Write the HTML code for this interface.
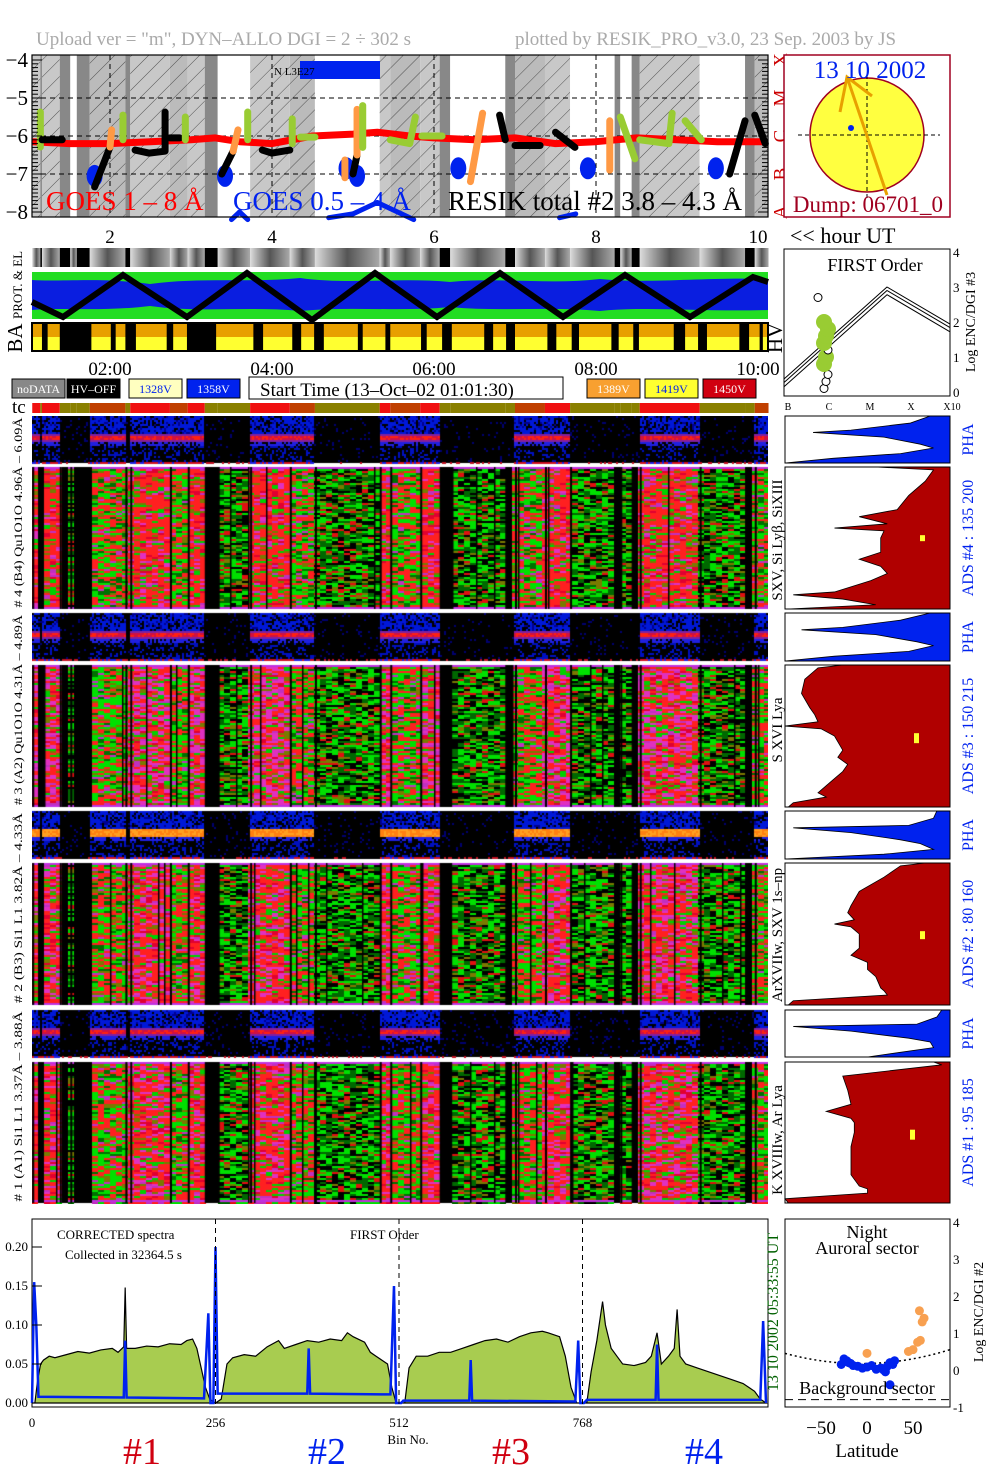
<!DOCTYPE html>
<html><head><meta charset="utf-8"><style>
html,body{margin:0;padding:0;background:#fff;width:1004px;height:1477px;overflow:hidden}
#wrap{position:relative;width:1004px;height:1477px}
svg{position:absolute;left:0;top:0}
canvas{position:absolute;left:32px;top:416px}
text{font-family:"Liberation Serif",serif}
</style></head><body>
<div id="wrap">
<canvas id="spec" width="736" height="788"></canvas>
<svg id="s" width="1004" height="1477" xmlns="http://www.w3.org/2000/svg">
<text x="36" y="45" font-size="19" fill="#aaa">Upload ver = "m", DYN–ALLO DGI =   2 ÷ 302 s</text>
<text x="515" y="45" font-size="19" fill="#aaa">plotted by RESIK_PRO_v3.0, 23 Sep. 2003 by JS</text>
</svg>
</div>
<script>
// ---------- data ----------
const segStart=[1.04,1.14,1.16,1.38,1.51,1.59,1.75,2.19,2.25,2.74,2.96,3.17,3.33,3.73,4.22,4.53,5.33,5.46,5.83,6.07,6.20,6.88,7.00,7.37,7.68,8.23,8.30,8.44,8.54,9.28,9.84,9.96];
const segEnd  =[1.14,1.16,1.38,1.51,1.59,1.75,2.19,2.25,2.74,2.96,3.17,3.33,3.73,4.22,4.53,5.33,5.46,5.83,6.07,6.20,6.88,7.00,7.37,7.68,8.23,8.30,8.44,8.54,9.28,9.84,9.96,10.13];
const segState=[3,0,3,0,1,0,2,0,3,2,3,0,1,3,2,1,3,2,3,0,1,0,2,3,1,0,1,0,3,1,0,2];
const baGapStart=[1.16,1.38,2.01,2.19,2.70,2.95,3.77,4.25,4.52,5.06,5.40,5.84,6.10,6.62,6.89,7.40,7.70,8.19,8.46,8.96,9.26,9.77,10.02];
const baGapEnd  =[1.23,1.77,2.07,2.32,2.78,3.31,3.89,4.36,4.64,5.12,5.46,5.91,6.22,6.73,7.00,7.51,7.79,8.28,8.53,9.10,9.37,9.89,10.06];
const hourTicks=[2,4,6,8,10];
const goesH=[1.04,1.5,2.0,2.5,3.0,3.3,3.6,4.0,4.5,5.0,5.3,5.7,6.0,6.5,7.0,7.5,8.0,8.5,9.0,9.5,10.1];
const goesV=[-6.15,-6.2,-6.2,-6.15,-6.1,-6.05,-6.15,-6.2,-6.0,-5.95,-5.9,-6.0,-6.05,-6.1,-6.05,-6.2,-6.15,-6.05,-6.1,-6.15,-6.15];
const goesHiH=[3.5,3.6,3.7,4.7,5.0,5.3,5.6,5.75,7.55,7.75];
const goesHiV=[-8.2,-8.0,-8.2,-8.15,-8.05,-7.75,-8.05,-8.2,-8.15,-8.05];
const resikSegH=[[1.14,1.14],[1.16,1.41],[1.81,2.0],[2.0,2.02],[2.16,2.16],[2.31,2.48,2.68,2.68],[2.74,2.86],[2.93,2.93],[3.38,3.52],[3.52,3.58],[3.7,3.7],[3.88,4.0,4.22],[4.25,4.25],[4.35,4.53],[4.9,4.9],[5.0,5.05],[5.05,5.05],[5.12,5.12],[5.46,5.7,5.77],[5.85,6.1],[6.81,6.88],[7.0,7.31],[7.5,7.74],[8.17,8.17],[8.3,8.48],[8.54,8.9,8.94],[9.1,9.3],[9.65,9.84],[9.96,10.09],[6.45,6.6]];
const resikSegV=[[-5.37,-6.29],[-6.1,-6.1],[-7.34,-6.29],[-6.29,-5.84],[-5.45,-6.1],[-6.37,-6.45,-6.4,-5.37],[-6.05,-6.05],[-5.5,-6.1],[-7.0,-6.4],[-6.4,-5.84],[-5.37,-6.1],[-6.37,-6.45,-6.37],[-5.55,-6.2],[-6.03,-6.03],[-6.63,-7.1],[-7.0,-6.5],[-6.5,-5.3],[-5.2,-6.3],[-6.1,-6.2,-5.5],[-6.0,-6.0],[-5.45,-6.1],[-6.25,-6.25],[-5.9,-6.3],[-5.6,-6.9],[-5.5,-6.6],[-6.1,-6.2,-5.4],[-5.6,-6.1],[-7.0,-5.6],[-5.45,-6.2],[-7.2,-5.4]];
const resikSegC=["#9c3","#000","#000","#f94","#9c3","#000","#000","#9c3","#000","#f94","#9c3","#000","#9c3","#9c3","#f94","#000","#f94","#9c3","#9c3","#9c3","#000","#000","#000","#f94","#9c3","#9c3","#9c3","#000","#000","#f94"];
const blobH=[1.81,3.42,4.92,5.05,6.3,7.9,9.48];
const blobV=[-7.05,-7.05,-6.85,-7.05,-6.85,-6.85,-6.85];
// bottom spectrum
const specBins=[0,4,8,12,16,24,32,48,64,80,96,112,120,128,130,132,144,160,176,192,208,216,224,230,236,242,248,256,264,272,280,296,312,328,344,352,368,384,400,416,432,440,448,464,472,480,488,496,502,508,512,520,526,536,552,568,584,600,616,632,648,664,680,696,712,720,736,744,752,760,768,774,780,788,796,800,808,816,824,840,856,864,872,878,888,896,900,904,912,928,944,960,976,992,1000,1008,1016,1024];
const specVals=[0,0,0.03,0.05,0.055,0.06,0.058,0.062,0.066,0.064,0.068,0.07,0.065,0.072,0.148,0.07,0.07,0.073,0.072,0.076,0.075,0.08,0.082,0.07,0.045,0.02,0.005,0,0.005,0.05,0.058,0.062,0.06,0.072,0.08,0.07,0.075,0.08,0.078,0.082,0.08,0.09,0.085,0.078,0.065,0.06,0.055,0.05,0.02,0,0,0,0.045,0.06,0.06,0.065,0.065,0.07,0.075,0.08,0.082,0.078,0.085,0.09,0.092,0.09,0.085,0.06,0.02,0,0,0,0.04,0.08,0.13,0.1,0.07,0.06,0.05,0.048,0.052,0.06,0.09,0.05,0.06,0.07,0.12,0.06,0.05,0.045,0.04,0.035,0.03,0.025,0.02,0.015,0.005,0];
const blueBins=[0,3,6,9,128,130,132,240,246,249,253,256,259,384,386,388,500,505,508,515,518,610,612,614,758,762,765,770,774,870,872,874,1016,1020,1024];
const blueVals=[0,0.155,0.1,0.008,0.007,0.08,0.007,0.006,0.115,0,0,0.2,0.012,0.012,0.07,0.012,0.011,0.15,0,0,0.003,0.003,0.055,0.003,0.002,0.08,0,0,0.004,0.004,0.075,0.004,0.004,0.105,0];
const specTicks=[0,0.05,0.10,0.15,0.20];
const specTickLabels=["0.00","0.05","0.10","0.15","0.20"];
const binTicks=[0,256,512,768];
// latitude scatter
const latBlue=[-28,-25,-22,-20,-18,-15,-10,-5,0,5,10,15,18,20,22,25,28,30,25,15];
const logBlue=[0.15,0.3,0.25,0.2,0.18,0.12,0.1,0.05,0.08,0.12,0.02,0.05,0.0,-0.05,0.1,0.2,0.15,0.25,-0.4,0.05];
const latOrange=[0,45,50,55,58,60,62,57];
const logOrange=[0.45,0.5,0.55,0.75,0.8,1.3,1.4,1.6];
// first order scatter
const foLog=[0.1,0.3,0.5,0.8,1.0,1.2,1.4,1.6,1.8,2.0];
const foColor=["#000","#000","#000","#9c3","#9c3","#000","#9c3","#9c3","#9c3","#9c3"];
// right profiles
const phaT=[0,0.15,0.3,0.35,0.45,0.6,0.68,0.8,0.9,1.0];
const phaF=[[0.88,0.76,0.4,0.17,0.6,0.82,0.9,0.7,0.29,0.0],[0.88,0.7,0.35,0.1,0.55,0.8,0.9,0.75,0.3,0.0],[0.92,0.9,0.75,0.05,0.4,0.7,0.82,0.9,0.6,0.0],[0.95,0.92,0.8,0.05,0.4,0.75,0.88,0.9,0.7,0.5]];
const adsT=[0,0.02,0.1,0.2,0.3,0.35,0.4,0.43,0.45,0.5,0.6,0.65,0.7,0.75,0.8,0.88,0.9,0.93,0.97,1.0];
const adsF=[[0.55,0.9,0.85,0.75,0.68,0.45,0.62,0.3,0.6,0.58,0.58,0.45,0.58,0.62,0.52,0.3,0.05,0.35,0.55,0.02],
 [0.35,0.2,0.12,0.1,0.15,0.18,0.2,0.0,0.22,0.3,0.35,0.32,0.38,0.35,0.3,0.22,0.2,0.25,0.05,0.02],
 [0.85,0.7,0.6,0.45,0.4,0.38,0.42,0.3,0.4,0.45,0.45,0.4,0.5,0.5,0.55,0.58,0.6,0.62,0.05,0.02],
 [0.9,0.95,0.35,0.38,0.4,0.25,0.4,0.42,0.42,0.42,0.4,0.4,0.4,0.4,0.4,0.45,0.5,0.5,0.0,0.02]];
// ---------- helpers ----------
const NS="http://www.w3.org/2000/svg";const S=document.getElementById('s');
function mk(tag,a,p){const e=document.createElementNS(NS,tag);for(const k in a)e.setAttribute(k,a[k]);(p||S).appendChild(e);return e;}
function tx(x,y,t,a){const e=mk('text',Object.assign({x:x,y:y},a||{}));e.textContent=t;return e;}
const xH=h=>-52+81*h;
const yL=v=>60+(-4-v)*38;
function stateAt(h){for(let i=0;i<segStart.length;i++)if(h>=segStart[i]&&h<segEnd[i])return segState[i];return 0;}
function hash(a,b,c){let n=(a*374761393+b*668265263+c*2147483647)|0;n=(n^(n>>>13))*1274126177|0;return ((n^(n>>>16))>>>0)/4294967296;}
// ---------- top GOES panel ----------
let e;
const defs=mk('defs',{});
const pat=mk('pattern',{id:'hatch',width:12,height:12,patternUnits:'userSpaceOnUse',patternTransform:'rotate(45)'},defs);
mk('line',{x1:0,y1:0,x2:0,y2:12,stroke:'#333','stroke-width':0.8},pat);
e=mk('rect',{x:32,y:55,width:736,height:162,fill:'#fff'});


for(let i=0;i<segStart.length;i++){
  const st=segState[i];const x0=xH(segStart[i]),x1=xH(segEnd[i]);
  const r=mk('rect',{x:x0,y:55,width:x1-x0,height:162,fill:st===0?'#888':(st===1?'#fff':(st===2?'#bbb':'#c8c8c8'))});
  
  
  if(st===2||st===3){const h=mk('rect',{x:x0,y:55,width:x1-x0,height:162,fill:'url(#hatch)'});
    
    }
}
for(const v of [-5,-6,-7]){e=mk('line',{x1:32,x2:768,y1:yL(v),y2:yL(v),stroke:'#000','stroke-dasharray':'5,4'});
  
  }
for(const h of [2,4,6,8]){e=mk('line',{x1:xH(h),x2:xH(h),y1:55,y2:217,stroke:'#000','stroke-dasharray':'5,4'});
  
  }
e=mk('rect',{x:300,y:61,width:80,height:18,fill:'#0022ee'});


e=tx(274,75,'N L3E27',{'font-size':11,'font-family':'Liberation Sans'});


let pts=goesH.map((h,i)=>xH(h)+','+yL(goesV[i])).join(' ');
e=mk('polyline',{points:pts,fill:'none',stroke:'#f00','stroke-width':7,'stroke-linejoin':'round'});


for(let i=0;i+1<goesHiH.length;i++){
  if(i===2||i===7)continue;
  e=mk('line',{x1:xH(goesHiH[i]),y1:yL(goesHiV[i]),x2:xH(goesHiH[i+1]),y2:yL(goesHiV[i+1]),stroke:'#0022ee','stroke-width':5,'stroke-linecap':'round'});
  
  
}
for(let i=0;i<blobH.length;i++){
  e=mk('ellipse',{cx:xH(blobH[i]),cy:yL(blobV[i]),rx:8,ry:11,fill:'#0022ee'});
  
  
}
for(let s=0;s<resikSegH.length;s++){
  const p=resikSegH[s].map((h,i)=>xH(h)+','+yL(resikSegV[s][i])).join(' ');
  e=mk('polyline',{points:p,fill:'none',stroke:resikSegC[s],'stroke-width':7,'stroke-linecap':'round','stroke-linejoin':'round'});
  
  
}
e=mk('rect',{x:32,y:55,width:736,height:162,fill:'none',stroke:'#000','stroke-width':1.2});


for(let v=-8;v<=-4;v+=0.1){const y=yL(v);const big=Math.abs(v-Math.round(v))<0.01;
  e=mk('line',{x1:32,x2:32+(big?10:6),y1:y,y2:y,stroke:'#000'});
  
  
  e=mk('line',{x1:768,x2:768-(big?10:6),y1:y,y2:y,stroke:'#000'});
  
  }
for(let v=-4;v>=-8;v--){e=tx(28,yL(v)+7,'−'+(-v),{'font-size':21,'text-anchor':'end'});
  
  }
const cls=['X','M','C','B','A'];
cls.forEach((c,i)=>{const y=yL(-4-i);e=tx(782,y,c,{'font-size':19,fill:'#c00','text-anchor':'middle',transform:`rotate(-90 782 ${y})`,'dominant-baseline':'middle'});
  
  });
e=tx(46,210,'GOES 1 – 8 Å',{'font-size':27,fill:'#f00'});


e=tx(233,210,'GOES 0.5 – 4 Å',{'font-size':27,fill:'#0022ee'});


e=tx(448,210,'RESIK total #2 3.8 – 4.3 Å',{'font-size':27,fill:'#000'});


// sun panel
e=mk('rect',{x:784,y:55,width:166,height:162,fill:'#fff',stroke:'#a00020','stroke-width':1.5});


e=mk('circle',{cx:867,cy:135,r:57,fill:'#ffff40',stroke:'#a00020','stroke-width':1.5});


e=mk('path',{d:'M798 135H940M867 75V200',stroke:'#000','stroke-dasharray':'4,3'});


e=mk('path',{d:'M840 112L847 77L872 96M847 77L887 195',stroke:'#e8a000','stroke-width':3,fill:'none'});


e=mk('circle',{cx:851,cy:128,r:3,fill:'#0022ee'});


e=tx(870,78,'13 10 2002',{'font-size':25,fill:'#0022ee','text-anchor':'middle'});


e=tx(868,212,'Dump: 06701_0',{'font-size':23,fill:'#a00020','text-anchor':'middle'});


// hour axis
hourTicks.forEach(h=>{e=tx(xH(h),243,String(h),{'font-size':19,'text-anchor':'middle'});
  
  });
e=tx(790,243,'<< hour UT',{'font-size':22});


// gray strip
const g1=mk('linearGradient',{id:'gs',x1:0,x2:1},defs);
mk('stop',{offset:0,'stop-color':'#ddd'},g1);mk('stop',{offset:0.5,'stop-color':'#555'},g1);mk('stop',{offset:1,'stop-color':'#aaa'},g1);
for(let i=0;i<segStart.length;i++){const x0=xH(segStart[i]),x1=xH(segEnd[i]);
  e=mk('rect',{x:x0,y:248,width:x1-x0,height:19,fill:segState[i]===0?'#000':'url(#gs)'});
  
  }
// prot band
e=mk('rect',{x:32,y:272,width:736,height:47,fill:'#0a1ee0'});


e=mk('path',{d:'M32 272H768V279C700 277 650 284 600 279 550 285 500 277 450 282 400 277 350 285 300 278 250 283 200 277 150 284 100 277 60 282 32 280Z',fill:'#22dd22'});


e=mk('path',{d:'M32 319H768V310C700 312 650 306 600 311 550 306 500 312 450 307 400 312 350 306 300 311 250 306 200 313 150 306 100 312 60 307 32 310Z',fill:'#22dd22'});


e=mk('polyline',{points:'32,302 63,317 123,275 187,317 247,273 312,320 375,273 437,317 500,273 563,317 625,275 690,317 753,277 768,282',fill:'none',stroke:'#000','stroke-width':6});


e=tx(22,285,'PROT. & EL',{'font-size':13,'text-anchor':'middle',transform:'rotate(-90 22 285)'});


// BA band
e=mk('rect',{x:32,y:324,width:736,height:13,fill:'#e8a000'});


e=mk('rect',{x:32,y:337,width:736,height:13,fill:'#ffff30'});


for(let i=0;i<baGapStart.length;i++){e=mk('rect',{x:xH(baGapStart[i]),y:323,width:xH(baGapEnd[i])-xH(baGapStart[i]),height:28,fill:'#000'});
  
  }
e=mk('rect',{x:32,y:323,width:736,height:28,fill:'none',stroke:'#000','stroke-width':2});


e=tx(22,338,'BA',{'font-size':21,'text-anchor':'middle',transform:'rotate(-90 22 338)'});


e=tx(782,338,'HV',{'font-size':21,'text-anchor':'middle',transform:'rotate(-90 782 338)'});


['02:00','04:00','06:00','08:00','10:00'].forEach((t,i)=>{e=tx(xH(hourTicks[i]),375,t,{'font-size':19,'text-anchor':'middle'});
  
  });
// buttons
const btnX=[12,67,129,187,587,645,703],btnT=['noDATA','HV–OFF','1328V','1358V','1389V','1419V','1450V'];
const btnF=['#888','#000','#ffffc0','#0022ee','#f8a030','#ffff30','#d00010'],btnC=['#fff','#fff','#0022ee','#fff','#fff','#0022ee','#fff'];
for(let i=0;i<7;i++){e=mk('rect',{x:btnX[i],y:379,width:53,height:19,fill:btnF[i],stroke:'#000'});
  
  
  e=tx(btnX[i]+26.5,393,btnT[i],{'font-size':12,'font-family':'Liberation Sans',fill:btnC[i],'text-anchor':'middle'});
  
  }
e=mk('rect',{x:249,y:377,width:314,height:22,fill:'#fff',stroke:'#000'});


e=tx(260,396,'Start Time (13–Oct–02 01:01:30)',{'font-size':19});


// tc bar
e=tx(12,413,'tc',{'font-size':19});


for(let i=0;i<segStart.length;i++){const st=segState[i];const x0=xH(segStart[i]),x1=xH(segEnd[i]);
  e=mk('rect',{x:x0,y:403,width:x1-x0,height:10,fill:st<=1?'#8a8000':(st===2?'#c04000':'#f01010')});
  
  }
// ---------- spectrograms (canvas) ----------
const panelY=[416,467,613,665,811,863,1010,1062],panelHt=[47,142,48,142,48,142,47,141],panelType=['P','A','P','A','P','A','P','A'],panelMag=[0,0.08,0,0.3,0,0.2,0,0.18];
const cv=document.getElementById('spec').getContext('2d');
cv.fillStyle='#fff';cv.fillRect(0,0,736,788);
for(let p=0;p<8;p++){
  const y0=panelY[p]-416,hgt=panelHt[p];
  cv.fillStyle='#000';cv.fillRect(0,y0,736,hgt);
  if(panelType[p]==='A'){
    const CW=6;
    for(let c=0;c<Math.ceil(736/CW);c++){const h=(32+c*CW+CW/2+52)/81;const st=stateAt(h);if(st===0)continue;
      for(let r=0;r<hgt/2;r++){const q=hash(c,r,p);let col;
        const mg=panelMag[p];
        if(st===1){col=q<0.3?'#00e000':q<0.55?'#006800':q<0.8?'#000':q<0.9?'#7a7a00':'#e01010';}
        else if(st===2){col=q<0.33?'#00e000':q<0.48?'#007000':q<0.83?'#ff2020':q<0.93?'#7a7a00':'#c030c0';}
        else{col=q<mg?'#e030c0':q<0.62?'#ff2020':q<0.72?'#e00030':q<0.84?'#00d000':q<0.93?'#7a7a00':'#c030c0';}
        if(r===0||r===Math.floor(hgt/2)-1)col='#c030e0';
        cv.fillStyle=col;cv.fillRect(c*CW,y0+r*2,CW,2);}
      if(hash(c,7,p)<0.12){cv.fillStyle='#000';cv.fillRect(c*CW,y0,1.5,hgt);}
    }
    for(let i=0;i<segStart.length;i++){cv.fillStyle='#000';cv.fillRect(xH(segStart[i])-32,y0,2,hgt);}
  }else{
    for(let c=0;c<368;c++){const h=(32+c*2+1+52)/81;const st=stateAt(h);
      for(let r=0;r<hgt/2;r++){const q=hash(c,r,p+9);const t=r/(hgt/2);
        let col=null;
        if(st<=1){if(q<0.07)col='#000070';if(t>=0.94&&q<0.3)col='#c01020';}
        else{
          if(t>=0.36&&t<0.52)col=p===4?(q<0.5?'#ffa020':'#ff8010'):(t<0.4||t>=0.48?'#8020a0':(q<0.5?'#ff2010':'#d01040'));
          else if(t>=0.52&&t<0.6)col=q<0.7?'#2020e0':'#000';
          else if(t>=0.6&&t<0.94)col=q<0.3?'#0010c0':null;
          else if(t>=0.94)col=q<0.6?'#d01020':'#2020e0';
          else col=q<0.6?'#0018d8':(q<0.75?'#000090':null);}
        if(col){cv.fillStyle=col;cv.fillRect(c*2,y0+r*2,2,2);}}
    }
  }
}
// left labels
const leftLab=['# 4 (B4) Qu1O1O 4.96Å – 6.09Å','# 3 (A2) Qu1O1O 4.31Å – 4.89Å','# 2 (B3) Si1 L1 3.82Å – 4.33Å','# 1 (A1) Si1 L1 3.37Å – 3.88Å'];
leftLab.forEach((t,i)=>{const yc=(panelY[2*i]+panelY[2*i+1]+panelHt[2*i+1])/2;
  e=tx(22,yc,t,{'font-size':12,'font-family':'Liberation Mono','text-anchor':'middle',transform:`rotate(-90 22 ${yc})`,textLength:190,lengthAdjust:'spacingAndGlyphs'});
  
  });
const lineLab=['SXV, Si Lyβ, SiXIII','S XVI Lya','ArXVIIw, SXV 1s–np','K XVIIIw, Ar Lya'];
const lineLabY=[540,730,935,1140];
lineLab.forEach((t,i)=>{e=tx(782,lineLabY[i],t,{'font-size':15,'text-anchor':'middle',transform:`rotate(-90 782 ${lineLabY[i]})`});
  
  });
// right profiles
['B','C','M','X','X10'].forEach((t,i)=>{e=tx(788+i*41,410,t,{'font-size':10,'font-family':'Liberation Sans','text-anchor':'middle'});
  
  });
const adsName=['ADS #4 :  135 200','ADS #3 :  150 215','ADS #2 :  80 160','ADS #1 :  95 185'];
for(let k=0;k<4;k++){
  const py=panelY[2*k],ph=panelHt[2*k],ay=panelY[2*k+1],ah=panelHt[2*k+1];
  let d='M950 '+py;phaT.forEach((t,i)=>{d+=' L'+(785+165*phaF[k][i])+' '+(py+t*ph);});d+=' L950 '+(py+ph)+'Z';
  e=mk('path',{d:d,fill:'#0022ee',stroke:'#000','stroke-width':0.8});
  
  
  e=mk('rect',{x:785,y:py,width:165,height:ph,fill:'none',stroke:'#000'});
  
  
  d='M950 '+ay;adsT.forEach((t,i)=>{d+=' L'+(785+165*adsF[k][i])+' '+(ay+t*ah);});d+=' L950 '+(ay+ah)+'Z';
  e=mk('path',{d:d,fill:'#b00000',stroke:'#000','stroke-width':0.8});
  
  
  e=mk('rect',{x:[920,914,920,910][k],y:ay+ah*0.48,width:5,height:[6,10,8,10][k],fill:'#ffff30'});
  
  
  e=mk('rect',{x:785,y:ay,width:165,height:ah,fill:'none',stroke:'#000'});
  
  
  const pc=py+ph/2;e=tx(973,pc,'PHA',{'font-size':16,fill:'#0022ee','text-anchor':'middle',transform:`rotate(-90 973 ${pc})`});
  
  
  const ac=ay+ah/2;e=tx(973,ac,adsName[k],{'font-size':16,fill:'#0022ee','text-anchor':'middle',transform:`rotate(-90 973 ${ac})`});
  
  
}
// first order panel
const foX=l=>784+(l+1)*41.5, foY=v=>392-v*35;
e=mk('rect',{x:784,y:249,width:166,height:147,fill:'#fff',stroke:'#000'});


[0,0.12,0.22].forEach(o=>{e=mk('path',{d:`M784 ${foY(0.15+o)} L887 ${foY(2.78+o)} L950 ${foY(1.72+o)}`,fill:'none',stroke:'#000','stroke-width':1,'stroke-linejoin':'round'});
  
  });
foLog.forEach((v,i)=>{e=mk('circle',{cx:824+(i%3)*2,cy:foY(v),r:foColor[i]==='#000'?4:8,fill:foColor[i]==='#000'?'#fff':'#9c3',stroke:foColor[i]==='#000'?'#000':'none'});
  
  });
e=mk('circle',{cx:818,cy:foY(2.7),r:4,fill:'none',stroke:'#000'});


e=tx(875,271,'FIRST Order',{'font-size':18,'text-anchor':'middle'});


for(let v=0;v<=4;v++){e=tx(953,foY(v)+5,String(v),{'font-size':13});
  
  }
e=tx(975,322,'Log ENC/DGI #3',{'font-size':14,'font-family':'Liberation Sans','text-anchor':'middle',transform:'rotate(-90 975 322)'});


// ---------- bottom spectrum ----------
const xB=b=>32+b*0.7168, yS=v=>1403-v*780;
e=mk('rect',{x:32,y:1219,width:736,height:188,fill:'#fff',stroke:'#000'});


let sp='M'+xB(0)+' '+yS(0);specBins.forEach((b,i)=>{sp+=' L'+xB(b)+' '+yS(specVals[i]);});sp+='Z';
e=mk('path',{d:sp,fill:'#a8cc50',stroke:'#000','stroke-width':1.2});


e=mk('polyline',{points:blueBins.map((b,i)=>xB(b)+','+yS(blueVals[i])).join(' '),fill:'none',stroke:'#0022ee','stroke-width':2.5});


[256,512,768].forEach(b=>{e=mk('line',{x1:xB(b),x2:xB(b),y1:1219,y2:1407,stroke:'#000','stroke-dasharray':'5,4'});
  
  });
specTicks.forEach((v,i)=>{e=tx(28,yS(v)+4,specTickLabels[i],{'font-size':13,'text-anchor':'end'});
  
  
  e=mk('line',{x1:32,x2:42,y1:yS(v),y2:yS(v),stroke:'#000'});
  
  });
binTicks.forEach(b=>{e=tx(xB(b),1427,String(b),{'font-size':13,'text-anchor':'middle'});
  
  });
e=tx(408,1444,'Bin No.',{'font-size':13,'text-anchor':'middle'});


e=tx(57,1239,'CORRECTED spectra',{'font-size':13});


e=tx(65,1259,'Collected in 32364.5 s',{'font-size':13});


e=tx(350,1239,'FIRST Order',{'font-size':13});


e=tx(778,1312,'13 10 2002    05:33:55 UT',{'font-size':16,fill:'#006000','text-anchor':'middle',transform:'rotate(-90 778 1312)'});


const chanX=[142,327,511,704],chanC=['#d00010','#0022ee','#d00010','#0022ee'];
chanX.forEach((x,i)=>{e=tx(x,1464,'#'+(i+1),{'font-size':38,fill:chanC[i],'text-anchor':'middle'});
  
  });
// latitude panel
const xLat=l=>867+l*0.92, yLg=v=>1370-v*37;
e=mk('rect',{x:785,y:1219,width:165,height:188,fill:'#fff',stroke:'#000'});


e=mk('path',{d:`M785 ${yLg(0.45)} Q867 ${yLg(-0.15)} 950 ${yLg(0.55)}`,fill:'none',stroke:'#000','stroke-dasharray':'2,3','stroke-width':1.5});


e=mk('line',{x1:785,x2:950,y1:yLg(-0.8),y2:yLg(-0.8),stroke:'#000','stroke-dasharray':'8,5'});


latBlue.forEach((l,i)=>{e=mk('circle',{cx:xLat(l),cy:yLg(logBlue[i]),r:4.5,fill:'#0022ee'});
  
  });
latOrange.forEach((l,i)=>{e=mk('circle',{cx:xLat(l),cy:yLg(logOrange[i]),r:4.5,fill:'#f8a050'});
  
  });
e=tx(867,1238,'Night',{'font-size':18,'text-anchor':'middle'});


e=tx(867,1254,'Auroral sector',{'font-size':18,'text-anchor':'middle'});


e=tx(867,1394,'Background sector',{'font-size':18,'text-anchor':'middle'});


[4,3,2,1,0,-1].forEach(v=>{e=tx(953,yLg(v)+5,String(v),{'font-size':13});
  
  });
[-50,0,50].forEach(l=>{e=tx(xLat(l),1434,l<0?'−50':String(l),{'font-size':19,'text-anchor':'middle'});
  
  });
e=tx(867,1457,'Latitude',{'font-size':19,'text-anchor':'middle'});


e=tx(983,1312,'Log ENC/DGI #2',{'font-size':14,'font-family':'Liberation Sans','text-anchor':'middle',transform:'rotate(-90 983 1312)'});


</script>
</body></html>
